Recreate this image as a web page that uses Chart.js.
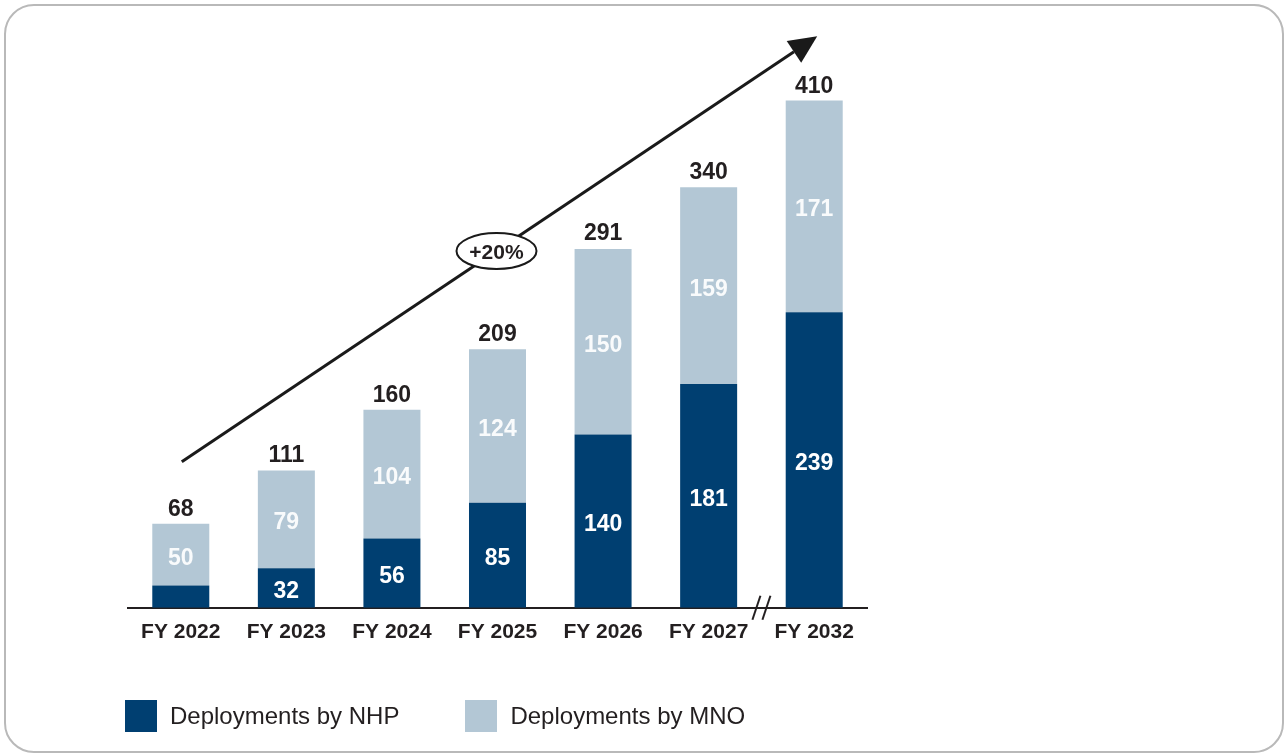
<!DOCTYPE html>
<html>
<head>
<meta charset="utf-8">
<script src="https://cdn.jsdelivr.net/npm/chart.js@4"></script>
<style>
  html, body { margin: 0; padding: 0; background: #fff; }
  body { width: 1286px; height: 755px; position: relative; overflow: hidden; font-family: "Liberation Sans", Arial, sans-serif; }
  .frame { position: absolute; left: 4px; top: 4px; width: 1276px; height: 745px; border: 2px solid #b9b9b9; border-radius: 30px; }
  #wrap { position: absolute; left: 0; top: 0; width: 1286px; height: 755px; }
  .legend { position: absolute; top: 700px; left: 125px; display: flex; align-items: center; }
  .legend .item { display: flex; align-items: center; margin-right: 66px; }
  .legend .box { width: 32px; height: 32px; margin-right: 13px; }
  .legend .txt { font-size: 24px; color: #231f20; }
</style>
</head>
<body>
<div class="frame"></div>
<div id="wrap"><canvas id="myChart" width="1286" height="755"></canvas></div>
<div class="legend" id="legend"></div>
<script>
const years = ['FY 2022', 'FY 2023', 'FY 2024', 'FY 2025', 'FY 2026', 'FY 2027', 'FY 2032'];
const nhp = [18, 32, 56, 85, 140, 181, 239];
const mno = [50, 79, 104, 124, 150, 159, 171];
const totals = [68, 111, 160, 209, 291, 340, 410];
const seriesNames = ['Deployments by NHP', 'Deployments by MNO'];
const growthLabel = '+20%';

const NAVY = '#003f71';
const LIGHT = '#b3c7d5';
const FONT = '"Liberation Sans", Arial, sans-serif';
const NARROW = '"Liberation Sans Narrow", "Liberation Sans", Arial, sans-serif';

// legend (html)
const legendEl = document.getElementById('legend');
[NAVY, LIGHT].forEach(function(c, i) {
    const item = document.createElement('div');
    item.className = 'item';
    item.innerHTML = '<div class="box" style="background:' + c + '"></div><div class="txt">' + seriesNames[i] + '</div>';
    legendEl.appendChild(item);
});

// value labels, totals, arrow, axis break
const extras = {
    id: 'extras',
    afterDatasetsDraw(chart) {
        const ctx = chart.ctx;
        const x = chart.scales.x, y = chart.scales.y;
        ctx.save();
        ctx.textAlign = 'center';
        ctx.textBaseline = 'alphabetic';
        ctx.font = 'bold 23px ' + NARROW;
        chart.data.datasets.forEach(function(ds, di) {
            chart.getDatasetMeta(di).data.forEach(function(bar, i) {
                const h = Math.abs(bar.base - bar.y);
                if (h < 28) return;
                ctx.fillStyle = di === 0 ? '#ffffff' : 'rgba(255,255,255,0.92)';
                ctx.fillText(ds.data[i], bar.x, (bar.y + bar.base) / 2 + 10);
            });
        });
        // totals
        ctx.fillStyle = '#231f20';
        totals.forEach(function(t, i) {
            ctx.fillText(t, x.getPixelForValue(i), y.getPixelForValue(t) - 8);
        });

        // growth arrow
        const x0 = x.getPixelForValue(0) + 1, y0 = y.getPixelForValue(118);
        const x1 = x.getPixelForValue(6) + 3, y1 = y.getPixelForValue(462);
        const ang = Math.atan2(y1 - y0, x1 - x0);
        const headLen = 28, headW = 13;
        const bx = x1 - headLen * Math.cos(ang), by = y1 - headLen * Math.sin(ang);
        ctx.strokeStyle = '#1a1a1a';
        ctx.lineWidth = 3;
        ctx.beginPath();
        ctx.moveTo(x0, y0);
        ctx.lineTo(bx, by);
        ctx.stroke();
        ctx.fillStyle = '#1a1a1a';
        ctx.beginPath();
        ctx.moveTo(x1, y1);
        ctx.lineTo(bx + headW * Math.sin(ang), by - headW * Math.cos(ang));
        ctx.lineTo(bx - headW * Math.sin(ang), by + headW * Math.cos(ang));
        ctx.closePath();
        ctx.fill();

        // ellipse with growth label
        const ex = x.getPixelForValue(3) - 1;
        const ey = y0 + (ex - x0) * Math.tan(ang);
        ctx.beginPath();
        ctx.ellipse(ex, ey, 40, 18, 0, 0, Math.PI * 2);
        ctx.fillStyle = '#fff';
        ctx.fill();
        ctx.lineWidth = 2;
        ctx.stroke();
        ctx.fillStyle = '#231f20';
        ctx.font = 'bold 21px ' + NARROW;
        ctx.fillText(growthLabel, ex, ey + 8);

        // axis break between FY 2027 and FY 2032
        const mx = (x.getPixelForValue(5) + x.getPixelForValue(6)) / 2;
        const base = x.top;
        ctx.strokeStyle = '#231f20';
        ctx.lineWidth = 2;
        [-5, 5].forEach(function(d) {
            ctx.beginPath();
            ctx.moveTo(mx + d - 4, base + 12);
            ctx.lineTo(mx + d + 4, base - 12);
            ctx.stroke();
        });
        ctx.restore();
    }
};

const ctx = document.getElementById('myChart').getContext('2d');
const myChart = new Chart(ctx, {
    type: 'bar',
    data: {
        labels: years,
        datasets: [
            { label: seriesNames[0], data: nhp, backgroundColor: NAVY, barPercentage: 0.54, categoryPercentage: 1 },
            { label: seriesNames[1], data: mno, backgroundColor: LIGHT, barPercentage: 0.54, categoryPercentage: 1 }
        ]
    },
    options: {
        responsive: false,
        animation: false,
        layout: { padding: { left: 128, right: 419, top: 14, bottom: 98 } },
        scales: {
            x: {
                stacked: true,
                grid: { display: false, drawTicks: false, tickLength: 0 },
                border: { display: true, color: '#231f20', width: 2 },
                ticks: { color: '#231f20', padding: 12, font: { family: FONT, size: 21, weight: 'bold' } }
            },
            y: {
                stacked: true,
                display: false,
                min: 0,
                max: 480
            }
        },
        plugins: {
            legend: { display: false },
            tooltip: { enabled: false }
        }
    },
    plugins: [extras]
});
</script>
</body>
</html>
